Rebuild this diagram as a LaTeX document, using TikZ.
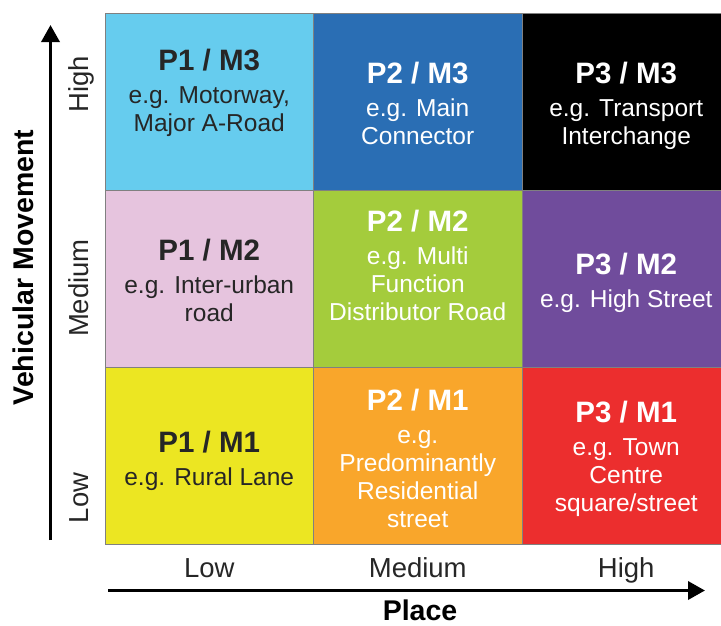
\documentclass[tikz,border=0pt]{standalone}
\usepackage{fontspec}
\setmainfont{Liberation Sans}
\usetikzlibrary{positioning}
\usetikzlibrary{arrows.meta}

\definecolor{skyblue}{RGB}{102,204,238}
\definecolor{roadblue}{RGB}{42,110,180}
\definecolor{pinkish}{RGB}{230,196,222}
\definecolor{limegreen}{RGB}{164,204,60}
\definecolor{violet}{RGB}{112,76,156}
\definecolor{lemon}{RGB}{236,230,34}
\definecolor{amber}{RGB}{249,166,43}
\definecolor{scarlet}{RGB}{236,46,46}

\newcommand{\celltitle}[1]{{\fontsize{29.5}{33}\selectfont\bfseries #1}}

\begin{document}
\begin{tikzpicture}[x=1pt, y=-1pt,
    cell/.style={rectangle, draw=black!50, line width=0.7pt, minimum width=208.5pt, minimum height=177pt, inner sep=0pt, outer sep=0pt},
    darklbl/.style={align=center, text=black!85, font=\fontsize{24.5}{28}\selectfont},
    lightlbl/.style={align=center, text=white, font=\fontsize{24.5}{28}\selectfont},
    tick/.style={anchor=base, text=black!85, font=\fontsize{27.5}{30}\selectfont},
    axislbl/.style={anchor=base, inner sep=1pt, font=\fontsize{28.5}{30}\selectfont\bfseries},
    axisline/.style={line width=3.5pt, -{Triangle[length=17pt, width=18pt]}}]
    \useasboundingbox (0,0) rectangle (721,625);

    % grid of cells
    \node[cell, fill=skyblue] (p1m3) at (209.25,101.5) {};
    \node[cell, fill=roadblue, right=0pt of p1m3] (p2m3) {};
    \node[cell, fill=black, right=0pt of p2m3] (p3m3) {};
    \node[cell, fill=pinkish, below=0pt of p1m3] (p1m2) {};
    \node[cell, fill=limegreen, right=0pt of p1m2] (p2m2) {};
    \node[cell, fill=violet, right=0pt of p2m2] (p3m2) {};
    \node[cell, fill=lemon, below=0pt of p1m2] (p1m1) {};
    \node[cell, fill=amber, right=0pt of p1m1] (p2m1) {};
    \node[cell, fill=scarlet, right=0pt of p2m1] (p3m1) {};

    \node[darklbl] (l1m3) at ([yshift=9pt]p1m3.center) {\celltitle{P1 / M3}\\[5pt] e.g. Motorway,\\ Major A-Road};
    \node[lightlbl] (l2m3) at ([yshift=-2pt]p2m3.center) {\celltitle{P2 / M3}\\[5pt] e.g. Main\\ Connector};
    \node[lightlbl] (l3m3) at ([yshift=-4pt]p3m3.center) {\celltitle{P3 / M3}\\[5pt] e.g. Transport\\ Interchange};
    \node[darklbl] (l1m2) at ([yshift=-2pt]p1m2.center) {\celltitle{P1 / M2}\\[5pt] e.g. Inter-urban\\ road};
    \node[lightlbl] (l2m2) at ([yshift=13pt]p2m2.center) {\celltitle{P2 / M2}\\[5pt] e.g. Multi\\ Function\\ Distributor Road};
    \node[lightlbl] (l3m2) at ([yshift=-4pt]p3m2.center) {\celltitle{P3 / M2}\\[5pt] e.g. High Street};
    \node[darklbl] (l1m1) at ([yshift=-5pt]p1m1.center) {\celltitle{P1 / M1}\\[5pt] e.g. Rural Lane};
    \node[lightlbl] (l2m1) at ([yshift=-3pt]p2m1.center) {\celltitle{P2 / M1}\\[5pt] e.g.\\ Predominantly\\ Residential\\ street};
    \node[lightlbl] (l3m1) at ([yshift=-3pt]p3m1.center) {\celltitle{P3 / M1}\\[5pt] e.g. Town\\ Centre\\ square/street};

    % axes
    \coordinate (vbot) at (50.5,540);
    \coordinate (vtop) at (50.5,25);
    \coordinate (hleft) at (108,590.5);
    \coordinate (hright) at (705,590.5);
    \draw[axisline] (vbot) -- (vtop);
    \draw[axisline] (hleft) -- (hright);

    \node[tick, rotate=90] (mhigh) at (88,84) {High};
    \node[tick, rotate=90] (mmed) at (88,288) {Medium};
    \node[tick, rotate=90] (mlow) at (88,498) {Low};
    \node[tick] (plow) at (209.25,577) {Low};
    \node[tick] (pmed) at (417.75,577) {Medium};
    \node[tick] (phigh) at (626.25,577) {High};

    \node[axislbl, rotate=90] (vmove) at (33,267.5) {Vehicular Movement};
    \node[axislbl] (place) at (420,620) {Place};
  \end{tikzpicture}
\end{document}
